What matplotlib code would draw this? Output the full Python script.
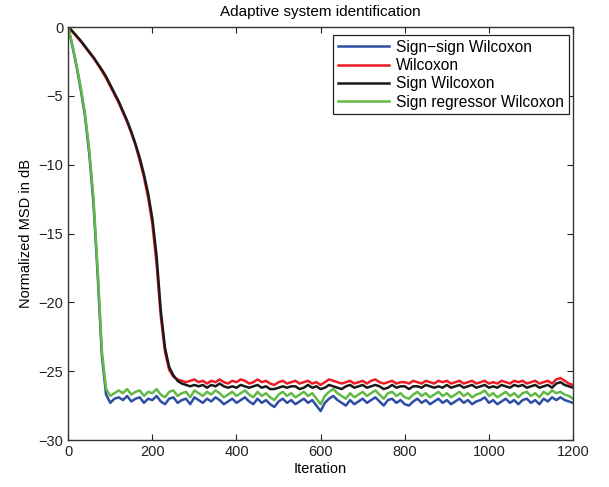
import numpy as np
import matplotlib
matplotlib.use('Agg')
import matplotlib.pyplot as plt

plt.rcParams['font.family'] = ['Liberation Sans', 'DejaVu Sans']

# iteration grid (every 10 iterations)
iterations = np.arange(0, 1201, 10)

sign_sign = [
    0.0, -1.4, -2.9, -4.6, -6.5, -9.2, -12.8, -18.0, -23.9, -26.7,
    -27.3, -27.0, -26.9, -27.1, -26.8, -27.2, -27.0, -26.9, -27.3, -27.0,
    -27.1, -26.8, -27.2, -27.4, -27.0, -26.9, -27.3, -27.1, -27.0, -27.4,
    -26.9, -27.1, -27.3, -27.0, -27.2, -26.9, -27.1, -27.4, -27.2, -27.0,
    -27.3, -27.1, -26.9, -27.2, -27.4, -27.0, -27.3, -27.1, -27.4, -27.6,
    -27.2, -27.0, -27.3, -27.1, -27.4, -27.2, -27.0, -27.3, -27.1, -27.5,
    -27.9, -27.3, -27.0, -26.8, -27.1, -27.3, -27.5, -27.1, -27.4, -27.2,
    -27.0, -27.3, -27.1, -26.9, -27.2, -27.5, -27.1, -27.0, -27.3, -27.1,
    -27.4, -27.5, -27.2, -27.0, -27.3, -27.1, -27.4, -27.2, -27.0, -27.3,
    -27.1, -27.4, -27.2, -27.0, -27.3, -27.1, -27.4, -27.2, -27.1, -26.9,
    -27.3, -27.1, -27.4, -27.2, -27.0, -27.3, -27.1, -27.4, -27.1, -27.0,
    -27.3, -27.1, -27.4, -27.0, -27.2, -26.9, -27.1, -26.9, -27.1, -27.2,
    -27.3,
]

wilcoxon = [
    0.0, -0.35, -0.7, -1.05, -1.45, -1.85, -2.25, -2.7, -3.2, -3.7,
    -4.3, -4.9, -5.5, -6.2, -6.9, -7.7, -8.6, -9.7, -10.9, -12.4,
    -14.3, -17.2, -21.0, -23.6, -24.9, -25.4, -25.6, -25.7, -25.8, -25.7,
    -25.6, -25.8, -25.7, -25.9, -25.7, -25.8, -25.6, -25.8, -25.9, -25.7,
    -25.8, -25.6, -25.7, -25.9, -25.8, -25.6, -25.8, -25.7, -25.9, -26.0,
    -25.8, -25.7, -25.9, -25.8, -25.7, -25.9, -25.8, -25.7, -25.9, -25.8,
    -26.0, -25.8, -25.6, -25.7, -25.8, -25.9, -25.8, -25.7, -25.9, -25.8,
    -25.7, -25.9, -25.7, -25.6, -25.8, -25.9, -25.8, -25.7, -25.9, -25.8,
    -25.8, -25.9, -25.7, -25.8, -25.9, -25.7, -25.8, -25.9, -25.7, -25.8,
    -25.7, -25.9, -25.8, -25.7, -25.9, -25.8, -25.7, -25.9, -25.8, -25.7,
    -25.9, -25.8, -25.9, -25.7, -25.8, -25.9, -25.7, -25.8, -25.7, -25.9,
    -25.8, -25.7, -25.9, -25.8, -25.7, -25.9, -25.6, -25.5, -25.7, -25.9,
    -26.0,
]

sign_wilcoxon = [
    0.0, -0.3, -0.65, -1.0, -1.4, -1.8, -2.2, -2.65, -3.1, -3.6,
    -4.2, -4.8, -5.4, -6.1, -6.8, -7.6, -8.5, -9.5, -10.7, -12.1,
    -13.9, -16.6, -20.6, -23.3, -24.7, -25.3, -25.7, -25.9, -26.0, -26.1,
    -26.0, -26.1, -26.0, -26.2, -26.0, -26.1, -25.9, -26.1, -26.2, -26.1,
    -26.2, -26.0, -26.1, -26.2, -26.1, -26.0, -26.2, -26.1, -26.3, -26.3,
    -26.2, -26.1, -26.2, -26.1, -26.1, -26.3, -26.2, -26.0, -26.2, -26.1,
    -26.3, -26.2, -26.0, -26.1, -26.2, -26.3, -26.1, -26.0, -26.2, -26.1,
    -26.0, -26.2, -26.1, -26.0, -26.1, -26.3, -26.2, -26.0, -26.2, -26.1,
    -26.1, -26.3, -26.1, -26.1, -26.2, -26.0, -26.1, -26.2, -26.1, -26.2,
    -26.0, -26.2, -26.1, -26.0, -26.2, -26.1, -26.0, -26.2, -26.1, -26.0,
    -26.2, -26.1, -26.2, -26.0, -26.1, -26.2, -26.0, -26.1, -26.0, -26.2,
    -26.1, -26.0, -26.2, -26.1, -26.0, -26.2, -25.9, -25.8, -26.0, -26.1,
    -26.2,
]

sign_regressor = [
    0.0, -1.3, -2.8, -4.4, -6.3, -8.9, -12.4, -17.6, -23.5, -26.3,
    -26.8, -26.6, -26.4, -26.6, -26.3, -26.7, -26.5, -26.4, -26.8, -26.5,
    -26.6, -26.3, -26.7, -26.9, -26.5, -26.4, -26.8, -26.6, -26.5, -26.9,
    -26.4, -26.6, -26.8, -26.5, -26.7, -26.4, -26.6, -26.9, -26.7, -26.5,
    -26.8, -26.6, -26.4, -26.7, -26.9, -26.5, -26.8, -26.6, -26.9, -27.1,
    -26.7, -26.5, -26.8, -26.6, -26.9, -26.7, -26.5, -26.8, -26.6, -27.0,
    -27.4, -26.8, -26.5, -26.3, -26.6, -26.8, -27.0, -26.6, -26.9, -26.7,
    -26.5, -26.8, -26.6, -26.4, -26.7, -27.0, -26.6, -26.5, -26.8, -26.6,
    -26.9, -27.0, -26.7, -26.5, -26.8, -26.6, -26.9, -26.7, -26.5, -26.8,
    -26.6, -26.9, -26.7, -26.5, -26.8, -26.6, -26.9, -26.7, -26.6, -26.4,
    -26.8, -26.6, -26.9, -26.7, -26.5, -26.8, -26.6, -26.9, -26.6, -26.5,
    -26.8, -26.6, -26.9, -26.5, -26.7, -26.4, -26.6, -26.5, -26.7, -26.8,
    -27.0,
]

labels = ['Sign\u2212sign Wilcoxon', 'Wilcoxon', 'Sign Wilcoxon', 'Sign regressor Wilcoxon']
colors = ['#2e4ea3', '#ec1c24', '#1a1a1a', '#62b946']

fig = plt.figure(figsize=(6.09, 4.87), dpi=100)
ax = fig.add_axes([0.112, 0.0965, 0.829, 0.848])

for series, lab, col in zip([sign_sign, wilcoxon, sign_wilcoxon, sign_regressor], labels, colors):
    ax.plot(iterations, series, color=col, linewidth=1.8, label=lab)

ax.set_xlim(0, 1200)
ax.set_ylim(-30, 0)
ax.set_xticks(np.arange(0, 1201, 200))
ax.set_yticks(np.arange(-30, 1, 5))
ax.tick_params(direction='in', top=True, right=True, length=4, labelsize=10.5, colors='#222222')
for sp in ax.spines.values():
    sp.set_linewidth(1.0)
    sp.set_color('#333333')

ax.set_xlabel('Iteration', fontsize=10.5, labelpad=2)
ax.set_ylabel('Normalized MSD in dB', fontsize=10.5)
ax.set_title('Adaptive system identification', fontsize=11, pad=8)

leg = ax.legend(loc='upper right', bbox_to_anchor=(0.992, 0.981), fontsize=11.2,
                fancybox=False, edgecolor='#222222', framealpha=1, handlelength=3.3,
                borderaxespad=0, labelspacing=0.22, borderpad=0.3, handletextpad=0.45)
leg.get_frame().set_linewidth(0.9)

fig.savefig('out.png', dpi=100)
